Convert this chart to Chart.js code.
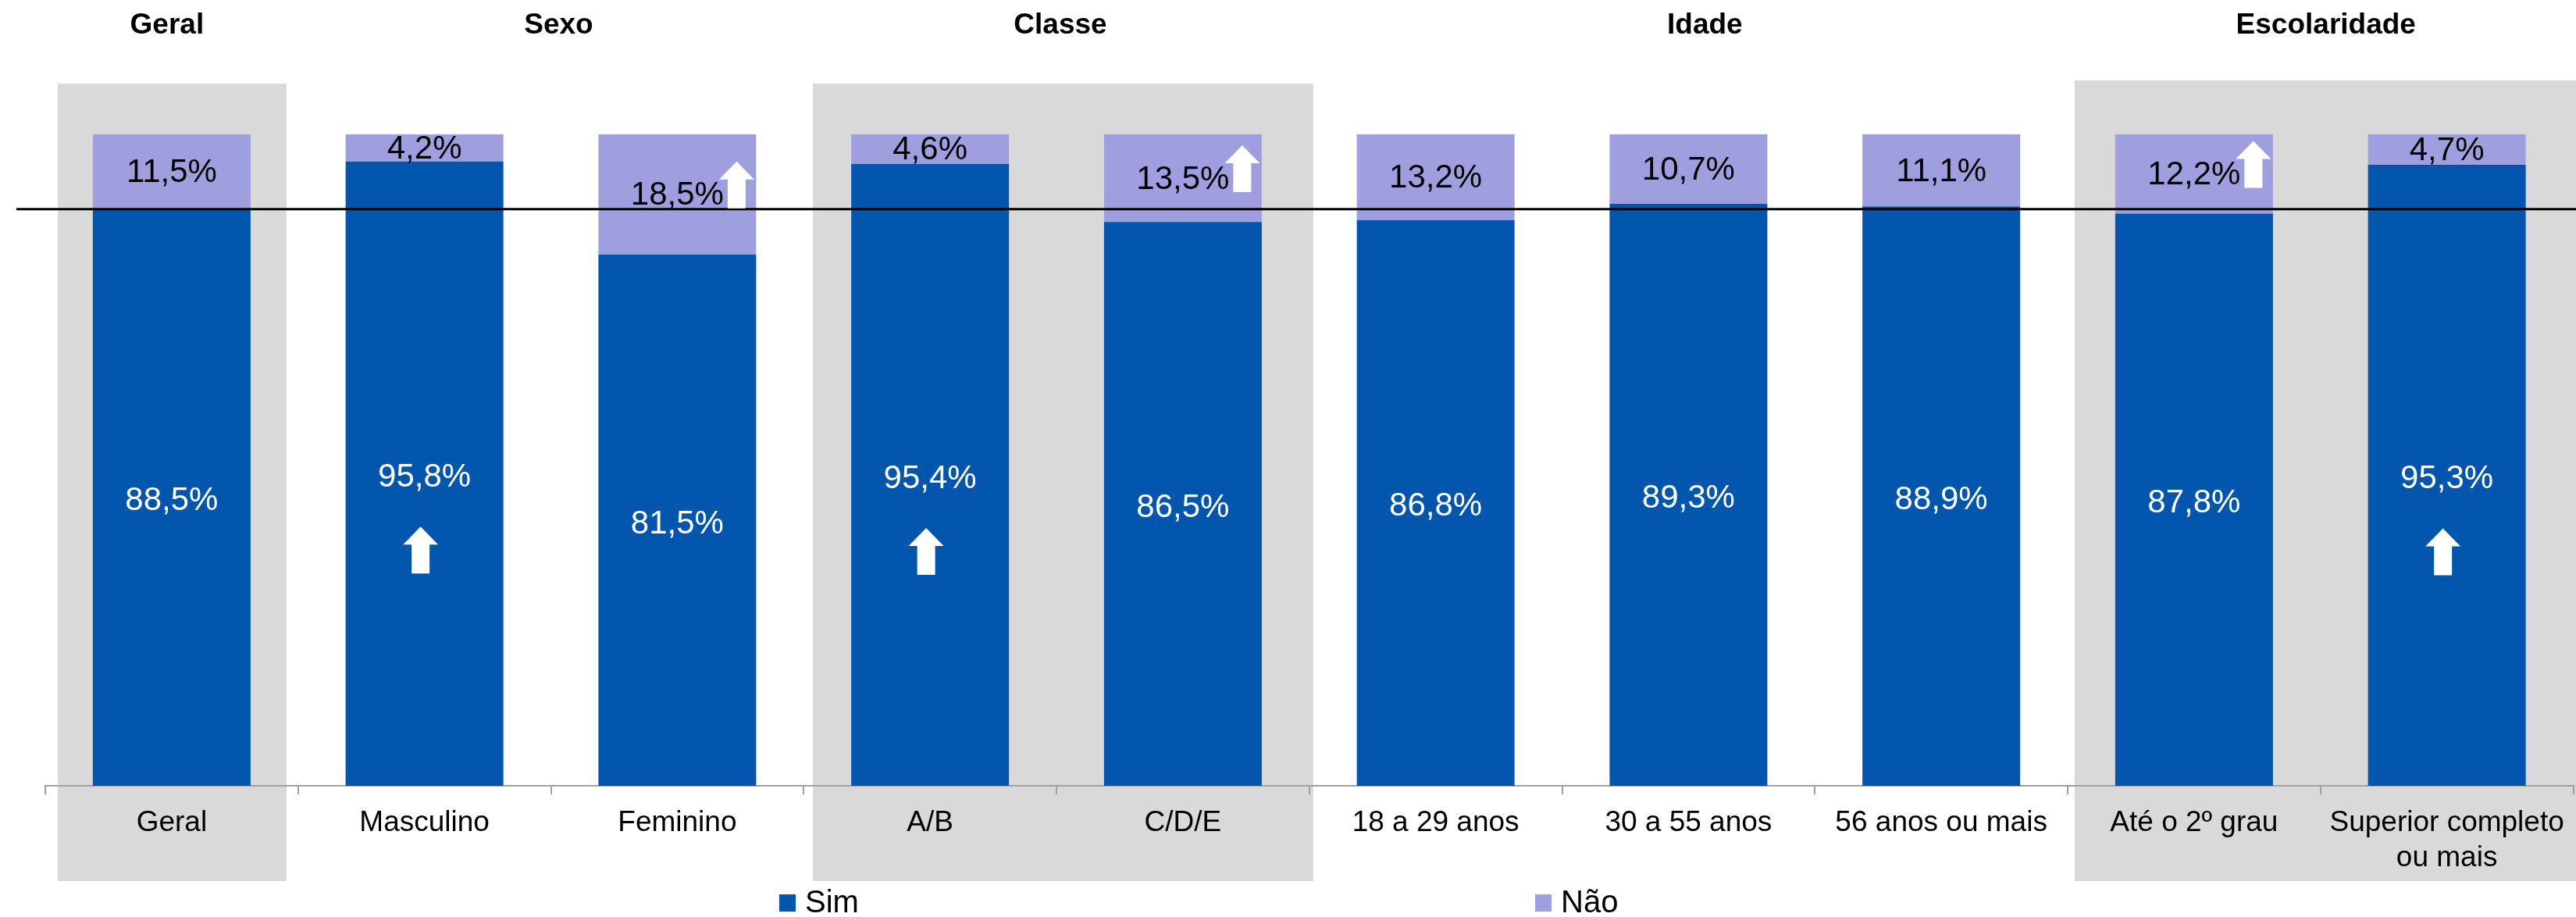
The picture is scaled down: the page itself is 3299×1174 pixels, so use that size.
<!DOCTYPE html>
<html>
<head>
<meta charset="utf-8">
<script src="https://cdn.jsdelivr.net/npm/chart.js@4.4.1/dist/chart.umd.min.js"></script>
<style>
  html, body { margin: 0; padding: 0; background: #fff; }
  #wrap { width: 3299px; height: 1174px; position: relative; }
</style>
</head>
<body>
<div id="wrap"><canvas id="c" width="3299" height="1174"></canvas></div>
<script>
// Categories and series
const categories = ['Geral', 'Masculino', 'Feminino', 'A/B', 'C/D/E',
  '18 a 29 anos', '30 a 55 anos', '56 anos ou mais', 'Até o 2º grau',
  ['Superior completo', 'ou mais']];
const seriesNames = ['Sim', 'Não'];
const simValues = [88.5, 95.8, 81.5, 95.4, 86.5, 86.8, 89.3, 88.9, 87.8, 95.3];
const naoValues = [11.5, 4.2, 18.5, 4.6, 13.5, 13.2, 10.7, 11.1, 12.2, 4.7];

// Category groups shown above the bars
const groupNames = ['Geral', 'Sexo', 'Classe', 'Idade', 'Escolaridade'];
const groupFirst = [0, 1, 3, 5, 8];
const groupLast = [0, 2, 4, 7, 9];
const shadedGroups = [0, 2, 4];

// Significant-difference markers (upward arrows)
const simUp = [false, true, false, true, false, false, false, false, false, true];
const naoUp = [false, false, true, false, true, false, false, false, true, false];

const COLOR_SIM = '#0256AE';
const COLOR_NAO = '#9F9EDE';
const FONT = '"Liberation Sans", Arial, sans-serif';

const fmt = v => v.toFixed(1).replace('.', ',') + '%';

function drawUpArrow(ctx, cx, top) {
  const w = 45, stem = 23, head = 23, h = 60;
  ctx.beginPath();
  ctx.moveTo(cx, top);
  ctx.lineTo(cx + w / 2, top + head);
  ctx.lineTo(cx + stem / 2, top + head);
  ctx.lineTo(cx + stem / 2, top + h);
  ctx.lineTo(cx - stem / 2, top + h);
  ctx.lineTo(cx - stem / 2, top + head);
  ctx.lineTo(cx - w / 2, top + head);
  ctx.closePath();
  ctx.fillStyle = '#fff';
  ctx.fill();
}

// Grey panels behind some groups, plus the group headings
const panelsPlugin = {
  id: 'panels',
  beforeDraw(chart, args, opts) {
    const ctx = chart.ctx;
    const meta = chart.getDatasetMeta(0);
    ctx.save();
    ctx.fillStyle = '#fff';
    ctx.fillRect(0, 0, chart.width, chart.height);
    shadedGroups.forEach((g, i) => {
      const a = meta.data[groupFirst[g]], b = meta.data[groupLast[g]];
      const left = a.x - a.width / 2 - opts.padLeft[i];
      const right = Math.min(chart.width, b.x + b.width / 2 + opts.padRight[i]);
      ctx.fillStyle = '#D9D9D9';
      ctx.fillRect(left, opts.top[i], right - left, opts.bottom - opts.top[i]);
    });
    ctx.fillStyle = '#000';
    ctx.font = 'bold 37px ' + FONT;
    ctx.textAlign = 'center';
    ctx.textBaseline = 'middle';
    groupNames.forEach((name, i) => {
      const a = meta.data[groupFirst[i]], b = meta.data[groupLast[i]];
      ctx.fillText(name, (a.x + b.x) / 2 + opts.titleShift[i], opts.titleY);
    });
    ctx.restore();
  }
};

// Value labels, reference line, arrows and legend
const overlayPlugin = {
  id: 'overlay',
  afterDatasetsDraw(chart, args, opts) {
    const ctx = chart.ctx;
    const yScale = chart.scales.y;
    const simMeta = chart.getDatasetMeta(0);
    const naoMeta = chart.getDatasetMeta(1);
    ctx.save();

    // reference line at the overall "Sim" level
    const refY = yScale.getPixelForValue(simValues[0]);
    ctx.strokeStyle = '#000';
    ctx.lineWidth = 3;
    ctx.beginPath();
    ctx.moveTo(opts.lineStart, refY);
    ctx.lineTo(chart.width, refY);
    ctx.stroke();

    ctx.font = '42px ' + FONT;
    ctx.textAlign = 'center';
    ctx.textBaseline = 'middle';
    simMeta.data.forEach((el, i) => {
      const cy = (el.y + el.base) / 2;
      ctx.fillStyle = '#fff';
      ctx.fillText(fmt(simValues[i]), el.x, cy + 5);
      if (simUp[i]) drawUpArrow(ctx, el.x - 5, cy + 68);
    });
    naoMeta.data.forEach((el, i) => {
      const cy = (el.y + el.base) / 2;
      ctx.fillStyle = '#000';
      ctx.fillText(fmt(naoValues[i]), el.x, cy + 2);
      if (naoUp[i]) drawUpArrow(ctx, el.x + el.width / 2 - 25, cy - 42);
    });
    ctx.restore();
  },
  afterDraw(chart, args, opts) {
    const ctx = chart.ctx;
    ctx.save();
    ctx.font = '40px ' + FONT;
    ctx.textAlign = 'left';
    ctx.textBaseline = 'middle';
    chart.data.datasets.forEach((ds, i) => {
      const x = opts.legendX[i];
      ctx.fillStyle = ds.backgroundColor;
      ctx.fillRect(x, opts.legendY - 11, 21, 22);
      ctx.fillStyle = '#000';
      ctx.fillText(ds.label, x + 33, opts.legendY + 1);
    });
    ctx.restore();
  }
};

new Chart(document.getElementById('c'), {
  type: 'bar',
  data: {
    labels: categories,
    datasets: [
      { label: seriesNames[0], data: simValues, backgroundColor: COLOR_SIM },
      { label: seriesNames[1], data: naoValues, backgroundColor: COLOR_NAO }
    ]
  },
  options: {
    responsive: false,
    devicePixelRatio: 1,
    animation: false,
    layout: { padding: { left: 58, right: 3.5, top: 171.7, bottom: 0 } },
    datasets: { bar: { barPercentage: 0.624, categoryPercentage: 1 } },
    scales: {
      x: {
        stacked: true,
        afterFit(scale) { scale.height = 168; },
        border: { color: '#A0A0A0', width: 2 },
        grid: { display: true, drawOnChartArea: false, drawTicks: true, tickLength: 11, color: '#A0A0A0', lineWidth: 2, offset: true },
        ticks: { color: '#000', font: { family: FONT, size: 37, lineHeight: 1.2 }, padding: 15, maxRotation: 0, autoSkip: false }
      },
      y: { stacked: true, display: false, min: 0, max: 100 }
    },
    plugins: {
      legend: { display: false },
      tooltip: { enabled: false },
      panels: { padLeft: [45, 49, 52], padRight: [46, 66, 90], top: [107, 107, 103], bottom: 1128, titleShift: [-6, 10, 5, 21, 7], titleY: 33 },
      overlay: { lineStart: 21, legendX: [998, 1966], legendY: 1156 }
    }
  },
  plugins: [panelsPlugin, overlayPlugin]
});
</script>
</body>
</html>
